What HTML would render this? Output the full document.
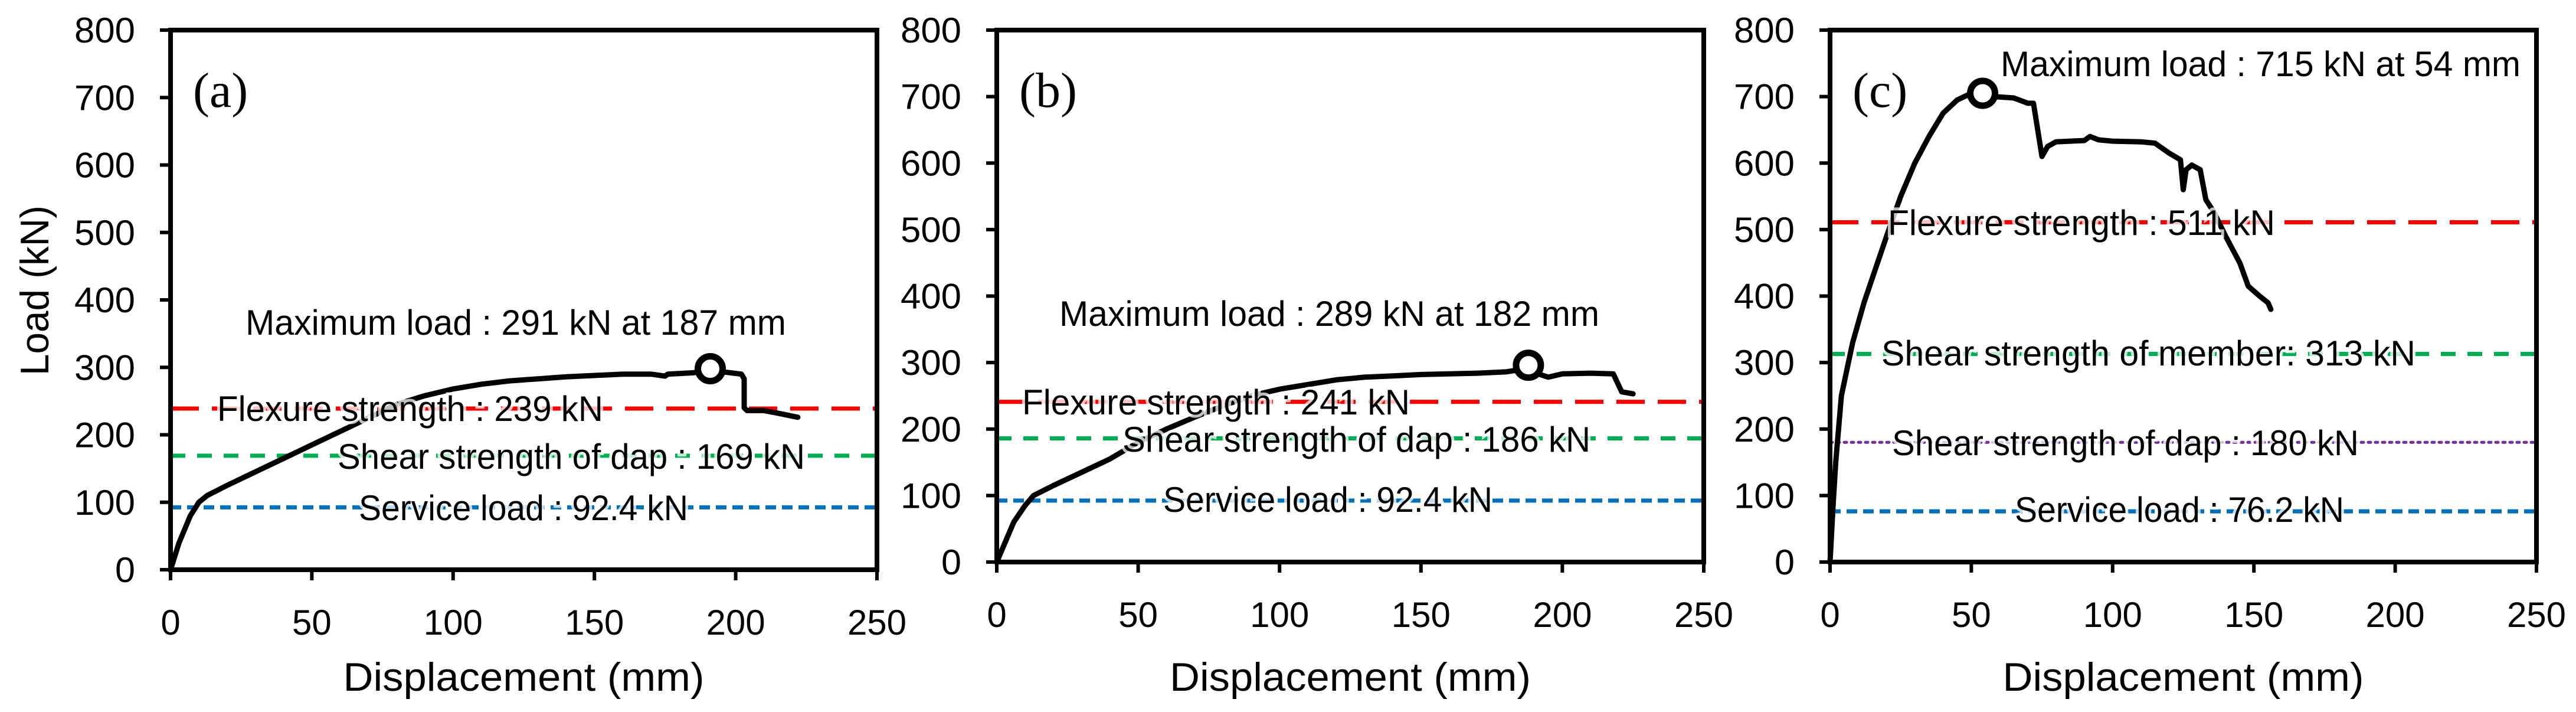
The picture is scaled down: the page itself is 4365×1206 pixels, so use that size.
<!DOCTYPE html>
<html><head><meta charset="utf-8">
<style>html,body{margin:0;padding:0;background:#fff}svg{display:block}text{font-family:"Liberation Sans",sans-serif}</style>
</head><body>
<svg id="fig" width="4365" height="1206" viewBox="0 0 4365 1206" xmlns="http://www.w3.org/2000/svg"></svg>
<script>
const xTicks = [0, 50, 100, 150, 200, 250];
const yTicks = [0, 100, 200, 300, 400, 500, 600, 700, 800];
const panelLabels = ["(a)", "(b)", "(c)"];
const curveAx = [0,3,7,10,13,20,30,40,50,60,70,80,90,100,110,120,130,140,150,160,170,175,176,185,190,196,202,203,203,204,210,215,222];
const curveAy = [0,40,80,100,110,125,145,165,185,205,225,245,258,268,275,280,283,286,288,290,290,287,290,292,296,293,290,283,240,236,236,232,226];
const curveBx = [0,3,6,10,13,20,30,40,50,60,70,80,90,100,110,120,130,140,150,160,170,180,186,190,195,200,210,218,220,221,225];
const curveBy = [0,30,60,85,100,115,135,155,180,200,218,235,250,260,267,274,278,280,282,283,284,286,290,285,278,283,284,283,265,256,253];
const curveCx = [0,1,2,3,4,6,8,12,16,20,25,30,35,40,45,50,54,58,65,70,72,75,77,80,90,92,95,100,110,115,120,124,125,126,128,131,133,136,140,145,148,152,155,156];
const curveCy = [0,80,150,200,250,290,330,390,440,490,550,600,640,675,695,705,708,700,698,690,690,610,625,632,634,640,635,633,632,630,615,605,560,590,597,590,545,525,490,450,415,400,390,380];
const maxPointA = [191, 298];
const maxPointB = [188, 296];
const maxPointC = [54, 705];
const refValuesA = [239, 169, 92.4];
const refValuesB = [241, 186, 92.4];
const refValuesC = [511, 313, 180, 76.2];

const NS = "http://www.w3.org/2000/svg";
const svg = document.getElementById("fig");
function mk(tag, attrs, parent) {
  const e = document.createElementNS(NS, tag);
  for (const k in attrs) e.setAttribute(k, attrs[k]);
  (parent || svg).appendChild(e);
  return e;
}
const styles = {
  red: {stroke: "#ff0000", dash: "48 22"},
  green: {stroke: "#00b050", dash: "25 20"},
  blue: {stroke: "#0070c0", dash: "18 10"},
  purple: {stroke: "#7030a0", dash: "4 8"}
};
const panels = [
  {x0: 289, x1: 1486, y0: 965, y1: 51, cx: curveAx, cy: curveAy, mp: maxPointA, id: "a",
   maxText: "Maximum load : 291 kN at 187 mm", maxPos: [416, 1332, 546],
   refs: [
     {v: refValuesA[0], s: "red", t: "Flexure strength : 239 kN", p: [368, 1022, 692], n: "flexure-strength"},
     {v: refValuesA[1], s: "green", t: "Shear strength of dap : 169 kN", p: [572, 1364, 773], n: "shear-strength-dap"},
     {v: refValuesA[2], s: "blue", t: "Service load : 92.4 kN", p: [608, 1166, 860], n: "service-load"}]},
  {x0: 1689, x1: 2887, y0: 952, y1: 51, cx: curveBx, cy: curveBy, mp: maxPointB, id: "b",
   maxText: "Maximum load : 289 kN at 182 mm", maxPos: [1795, 2710, 531],
   refs: [
     {v: refValuesB[0], s: "red", t: "Flexure strength : 241 kN", p: [1732, 2389, 681], n: "flexure-strength"},
     {v: refValuesB[1], s: "green", t: "Shear strength of dap : 186 kN", p: [1902, 2695, 744], n: "shear-strength-dap"},
     {v: refValuesB[2], s: "blue", t: "Service load : 92.4 kN", p: [1971, 2529, 846], n: "service-load"}]},
  {x0: 3101, x1: 4298, y0: 952, y1: 51, cx: curveCx, cy: curveCy, mp: maxPointC, id: "c",
   maxText: "Maximum load : 715 kN at 54 mm", maxPos: [3390, 4271, 108],
   refs: [
     {v: refValuesC[0], s: "red", t: "Flexure strength : 511 kN", p: [3199, 3855, 377], n: "flexure-strength"},
     {v: refValuesC[1], s: "green", t: "Shear strength of member: 313 kN", p: [3188, 4093, 598], n: "shear-strength-member"},
     {v: refValuesC[2], s: "purple", t: "Shear strength of dap : 180 kN", p: [3206, 3997, 750], n: "shear-strength-dap"},
     {v: refValuesC[3], s: "blue", t: "Service load : 76.2 kN", p: [3414, 3972, 863], n: "service-load"}]}
];

panels.forEach((P, i) => {
  const g = mk("g", {});
  
  
  const X = v => P.x0 + (v - 0) / 250 * (P.x1 - P.x0);
  const Y = v => P.y0 - v / 800 * (P.y0 - P.y1);
  P.refs.forEach(r => {
    const st = styles[r.s];
    const l = mk("line", {x1: X(0), x2: X(250), y1: Y(r.v), y2: Y(r.v), stroke: st.stroke, "stroke-width": r.s === "purple" ? 5 : 7, "stroke-dasharray": st.dash, "stroke-linecap": r.s === "purple" ? "round" : "butt"}, g);
    
    
  });
  let d = "";
  P.cx.forEach((x, k) => { d += (k ? "L" : "M") + X(x).toFixed(1) + "," + Y(P.cy[k]).toFixed(1); });
  const c = mk("path", {d: d, fill: "none", stroke: "#000", "stroke-width": 9, "stroke-linejoin": "round", "stroke-linecap": "round"}, g);
  
  
  const m = mk("circle", {cx: X(P.mp[0]), cy: Y(P.mp[1]), r: 21, fill: "#fff", stroke: "#000", "stroke-width": 11}, g);
  
  
  P.refs.forEach(r => {
    const t = mk("text", {x: r.p[0], y: r.p[2] + 21, "font-size": 60, textLength: r.p[1] - r.p[0], lengthAdjust: "spacingAndGlyphs", fill: "#000", stroke: "rgba(255,255,255,0.75)", "stroke-width": 10, "paint-order": "stroke"}, g);
    t.textContent = r.t;
    
    
  });
  const mt = mk("text", {x: P.maxPos[0], y: P.maxPos[2] + 21, "font-size": 60, textLength: P.maxPos[1] - P.maxPos[0], lengthAdjust: "spacingAndGlyphs", fill: "#000"}, g);
  mt.textContent = P.maxText;
  
  
  const pl = mk("text", {x: P.x0 + 38, y: P.y1 + 130, "font-size": 84, fill: "#000"}, g);
  pl.setAttribute("style", "font-family:'Liberation Serif',serif");
  pl.textContent = panelLabels[i];
  
  
  const fr = mk("rect", {x: P.x0, y: P.y1, width: P.x1 - P.x0, height: P.y0 - P.y1, fill: "none", stroke: "#000", "stroke-width": 8}, g);
  
  
  yTicks.forEach(v => {
    mk("line", {x1: P.x0 - 18, x2: P.x0, y1: Y(v), y2: Y(v), stroke: "#000", "stroke-width": 6}, g);
    const t = mk("text", {x: P.x0 - 60, y: Y(v) + 21, "font-size": 60, "text-anchor": "end", textLength: v === 0 ? 34 : 103, lengthAdjust: "spacingAndGlyphs", fill: "#000"}, g);
    t.textContent = v;
    
    
  });
  xTicks.forEach(v => {
    mk("line", {x1: X(v), x2: X(v), y1: P.y0, y2: P.y0 + 18, stroke: "#000", "stroke-width": 6}, g);
    const t = mk("text", {x: X(v), y: P.y0 + 110, "font-size": 60, "text-anchor": "middle", fill: "#000"}, g);
    t.textContent = v;
    
    
  });
  const xt = mk("text", {x: (P.x0 + P.x1) / 2, y: 1170, "font-size": 68, "text-anchor": "middle", textLength: 612, lengthAdjust: "spacingAndGlyphs", fill: "#000"}, g);
  xt.textContent = "Displacement (mm)";
  
  
  if (i === 0) {
    const yt = mk("text", {x: 0, y: 0, "font-size": 68, "text-anchor": "middle", textLength: 288, lengthAdjust: "spacingAndGlyphs", fill: "#000", transform: "translate(82,492) rotate(-90)"}, g);
    yt.textContent = "Load (kN)";
    
    
  }
});
</script>
</body></html>
